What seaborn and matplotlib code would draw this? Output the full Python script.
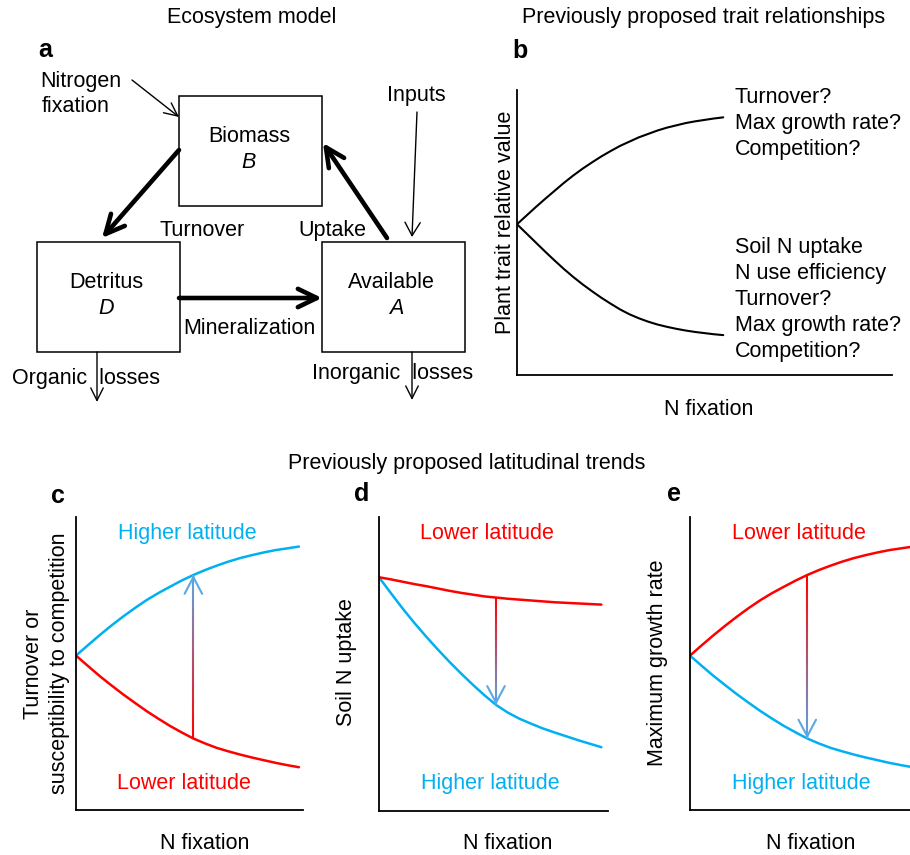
import numpy as np
import pandas as pd
import matplotlib
matplotlib.use("Agg")
import matplotlib.pyplot as plt
import seaborn as sns
from matplotlib.patches import Rectangle, FancyArrowPatch
from matplotlib.collections import LineCollection
from matplotlib.colors import to_rgb

sns.set_theme(style="white")
plt.rcParams["font.family"] = ["Liberation Sans", "DejaVu Sans"]
plt.rcParams["text.color"] = "black"
plt.rcParams["axes.labelcolor"] = "black"

FS = 15.5
BLUE = "#00B0F0"
RED = "#FF0000"
HEAD_BLUE = "#5AA8E4"

# ---- panel b: proposed trait relationships (relative units 0-100) ----
b_x = [0, 2.5, 5, 7.5, 10, 12.5, 15, 17.5, 20, 22.5, 25, 27.5, 30, 32.5, 35,
       37.5, 40, 42.5, 45, 47.5, 50, 52.5, 55]
b_up = [52.9, 55.9, 58.9, 61.8, 64.6, 67.4, 70.0, 72.4, 74.6, 76.7, 78.6, 80.4,
        81.9, 83.4, 84.6, 85.8, 86.8, 87.6, 88.4, 89.0, 89.5, 90.0, 90.4]
b_down = [52.9, 49.7, 46.5, 43.3, 40.2, 37.2, 34.4, 31.8, 29.4, 27.1, 25.0, 23.0,
          21.3, 19.9, 18.7, 17.7, 16.9, 16.2, 15.6, 15.1, 14.7, 14.3, 14.0]
b_up_labels = ["Turnover?", "Max growth rate?", "Competition?"]
b_down_labels = ["Soil N uptake", "N use efficiency", "Turnover?",
                 "Max growth rate?", "Competition?"]

# ---- panel c: turnover / susceptibility to competition ----
c_x = [0, 5.2, 10.3, 15.5, 20.7, 25.9, 31.0, 36.2, 41.4, 46.5, 51.7, 56.9,
       62.0, 67.2, 72.4, 77.6, 82.7, 87.9, 93.1, 98.2]
c_high = [52.7, 56.2, 59.6, 62.9, 66.0, 68.9, 71.6, 74.0, 76.2, 78.3, 80.2, 81.9,
          83.4, 84.8, 86.0, 87.0, 87.9, 88.7, 89.3, 89.9]
c_low = [52.7, 49.2, 45.8, 42.6, 39.5, 36.6, 33.8, 31.2, 28.7, 26.5, 24.4, 22.7,
         21.2, 20.0, 18.9, 17.9, 17.0, 16.1, 15.3, 14.6]
c_arrow_idx = 10

# ---- panel d: soil N uptake ----
d_x = [0, 5.1, 10.2, 15.3, 20.4, 25.6, 30.7, 35.8, 40.9, 46.0, 51.1, 56.2,
       61.3, 66.4, 71.5, 76.7, 81.8, 86.9, 92.0, 97.1]
d_low = [79.5, 78.8, 78.0, 77.2, 76.5, 75.7, 74.9, 74.2, 73.6, 73.0, 72.6, 72.2,
         71.9, 71.6, 71.3, 71.0, 70.8, 70.6, 70.4, 70.2]
d_high = [79.5, 74.2, 69.0, 64.1, 59.5, 55.0, 50.8, 46.8, 43.0, 39.4, 36.1, 33.5,
          31.4, 29.7, 28.1, 26.7, 25.4, 24.1, 22.9, 21.7]
d_arrow_idx = 10

# ---- panel e: maximum growth rate ----
e_x = [0, 5.1, 10.2, 15.4, 20.5, 25.6, 30.7, 35.8, 41.0, 46.1, 51.2, 56.3,
       61.4, 66.6, 71.7, 76.8, 81.9, 87.0, 92.2, 97.3]
e_low = [52.7, 56.2, 59.6, 62.9, 66.0, 68.9, 71.6, 74.0, 76.2, 78.3, 80.2, 81.9,
         83.4, 84.8, 86.0, 87.0, 87.9, 88.7, 89.3, 89.9]
e_high = [52.7, 49.2, 45.8, 42.6, 39.5, 36.6, 33.8, 31.2, 28.7, 26.5, 24.4, 22.7,
          21.2, 20.0, 18.9, 17.9, 17.0, 16.1, 15.3, 14.6]
e_arrow_idx = 10

W, H = 910, 855
fig = plt.figure(figsize=(W / 100, H / 100), dpi=100)


def px_axes(left, right, top, bottom):
    return fig.add_axes([left / W, 1 - bottom / H, (right - left) / W, (bottom - top) / H])


def style_axes(ax):
    ax.set_xlim(0, 100)
    ax.set_ylim(0, 100)
    ax.set_xticks([])
    ax.set_yticks([])
    sns.despine(ax=ax)
    for s in ("left", "bottom"):
        ax.spines[s].set_color("black")
        ax.spines[s].set_linewidth(1.3)
    ax.patch.set_alpha(0)


def set_labels(ax, xlabel, xpos, ylabel, ypos, linespacing=1.2):
    ax.set_xlabel(xlabel, fontsize=FS)
    ax.set_ylabel(ylabel, fontsize=FS, multialignment="center", linespacing=linespacing)
    ax.xaxis.set_label_coords(*xpos)
    ax.yaxis.set_label_coords(*ypos)
    ax.xaxis.label.set_va("center")
    ax.yaxis.label.set_va("center")


def curves(ax, x, series, palette, lw):
    frames = [pd.DataFrame({"x": x, "y": vals, "series": name}) for name, vals in series.items()]
    df = pd.concat(frames, ignore_index=True)
    sns.lineplot(data=df, x="x", y="y", hue="series", palette=palette, ax=ax,
                 legend=False, linewidth=lw, estimator=None, sort=False)


def gradient_arrow(ax, x, y0, y1):
    n = 60
    ys = np.linspace(y0, y1, n + 1)
    segs = [[(x, ys[i]), (x, ys[i + 1])] for i in range(n)]
    c0, c1 = np.array(to_rgb(RED)), np.array(to_rgb(HEAD_BLUE))
    t = np.linspace(0, 1, n)[:, None]
    cols = (1 - t) * c0 + t * c1
    ax.add_collection(LineCollection(segs, colors=cols, linewidths=1.5, zorder=3))
    direction = np.sign(y1 - y0)
    ax.add_patch(FancyArrowPatch((x, y1 - direction * 1.0), (x, y1),
                                 arrowstyle="->,head_length=0.85,head_width=0.45",
                                 mutation_scale=14, color=HEAD_BLUE, lw=1.5,
                                 shrinkA=0, shrinkB=0, zorder=4))


# ---------------- overlay: panel a diagram and headings ----------------
ov = fig.add_axes([0, 0, 1, 1])
ov.set_xlim(0, W)
ov.set_ylim(H, 0)
ov.axis("off")

ov.text(252, 17, "Ecosystem model", fontsize=FS, ha="center", va="center")
ov.text(704, 17, "Previously proposed trait relationships", fontsize=FS, ha="center", va="center")
ov.text(467, 463, "Previously proposed latitudinal trends", fontsize=FS, ha="center", va="center")
for letter, (lx, ly) in {"a": (45, 50), "b": (520, 51), "c": (58, 496),
                         "d": (362, 494), "e": (674, 494)}.items():
    ov.text(lx, ly, letter, fontsize=18, fontweight="bold", ha="center", va="center")

boxes = {"Biomass": (179, 96, "B", 249, 249), "Detritus": (37, 242, "D", 106, 106),
         "Available": (322, 242, "A", 396, 391)}
for name, (bx, by, sym, sx, nx) in boxes.items():
    ov.add_patch(Rectangle((bx, by), 143, 110, fill=False, ec="black", lw=1.1))
    ov.text(nx, by + 40, name, fontsize=FS, ha="center", va="center")
    ov.text(sx, by + 66, sym, fontsize=FS, style="italic", ha="center", va="center")


def arrow(p0, p1, lw, hl, hw, ms):
    ov.add_patch(FancyArrowPatch(p0, p1, arrowstyle=f"->,head_length={hl},head_width={hw}",
                                 mutation_scale=ms, color="black", lw=lw,
                                 shrinkA=0, shrinkB=0))


# fluxes between pools
arrow((179, 150), (102, 238), 3.3, 0.68, 0.33, 20)
arrow((387, 238), (323, 143), 3.3, 0.68, 0.33, 20)
arrow((179, 298), (322, 298), 3.3, 0.68, 0.33, 20)
# external inputs and losses
arrow((132, 80), (179, 117), 1.0, 0.95, 0.45, 10)
arrow((417, 112), (412, 237), 1.0, 0.95, 0.55, 10)
arrow((97, 352), (97, 402), 1.0, 0.9, 0.45, 10)
arrow((412, 352), (412, 400), 1.0, 0.9, 0.45, 10)

ov.text(202, 230, "Turnover", fontsize=FS, ha="center", va="center")
ov.text(332, 230, "Uptake", fontsize=FS, ha="center", va="center")
ov.text(249, 328, "Mineralization", fontsize=FS, ha="center", va="center")
ov.text(40, 81, "Nitrogen", fontsize=FS, ha="left", va="center")
ov.text(42, 106, "fixation", fontsize=FS, ha="left", va="center")
ov.text(416, 95, "Inputs", fontsize=FS, ha="center", va="center")
ov.text(86, 378, "Organic  losses", fontsize=FS, ha="center", va="center")
ov.text(393, 373, "Inorganic  losses", fontsize=FS, ha="center", va="center")

# ---------------- panel b ----------------
axb = px_axes(517, 892, 90, 375)
curves(axb, b_x, {"up": b_up, "down": b_down}, {"up": "black", "down": "black"}, 1.5)
style_axes(axb)
set_labels(axb, "N fixation", (0.512, -0.12), "Plant trait relative value", (-0.03, 0.537))
for i, t in enumerate(b_up_labels):
    axb.text(58.1, 97.3 - i * 9.1, t, fontsize=FS, ha="left", va="center")
for i, t in enumerate(b_down_labels):
    axb.text(58.1, 44.6 - i * 9.1, t, fontsize=FS, ha="left", va="center")

# ---------------- panel c ----------------
axc = px_axes(76, 303, 517, 810)
curves(axc, c_x, {"Higher latitude": c_high, "Lower latitude": c_low},
       {"Higher latitude": BLUE, "Lower latitude": RED}, 1.8)
style_axes(axc)
gradient_arrow(axc, c_x[c_arrow_idx], c_low[c_arrow_idx], c_high[c_arrow_idx])
set_labels(axc, "N fixation", (0.568, -0.113),
           "Turnover or\nsusceptibility to competition", (-0.13, 0.50), linespacing=1.35)
axc.text(0.489, 0.945, "Higher latitude", color=BLUE, fontsize=FS, ha="center", va="center",
         transform=axc.transAxes)
axc.text(0.476, 0.092, "Lower latitude", color=RED, fontsize=FS, ha="center", va="center",
         transform=axc.transAxes)

# ---------------- panel d ----------------
axd = px_axes(379, 608, 517, 811)
curves(axd, d_x, {"Higher latitude": d_high, "Lower latitude": d_low},
       {"Higher latitude": BLUE, "Lower latitude": RED}, 1.8)
style_axes(axd)
gradient_arrow(axd, d_x[d_arrow_idx], d_low[d_arrow_idx], d_high[d_arrow_idx])
set_labels(axd, "N fixation", (0.563, -0.11), "Soil N uptake", (-0.14, 0.505))
axd.text(0.472, 0.945, "Lower latitude", color=RED, fontsize=FS, ha="center", va="center",
         transform=axd.transAxes)
axd.text(0.485, 0.092, "Higher latitude", color=BLUE, fontsize=FS, ha="center", va="center",
         transform=axd.transAxes)

# ---------------- panel e ----------------
axe = px_axes(690, 919, 517, 810)
curves(axe, e_x, {"Higher latitude": e_high, "Lower latitude": e_low},
       {"Higher latitude": BLUE, "Lower latitude": RED}, 1.8)
style_axes(axe)
gradient_arrow(axe, e_x[e_arrow_idx], e_low[e_arrow_idx], e_high[e_arrow_idx])
set_labels(axe, "N fixation", (0.528, -0.113), "Maximum growth rate", (-0.14, 0.502))
axe.text(0.476, 0.945, "Lower latitude", color=RED, fontsize=FS, ha="center", va="center",
         transform=axe.transAxes)
axe.text(0.485, 0.092, "Higher latitude", color=BLUE, fontsize=FS, ha="center", va="center",
         transform=axe.transAxes)

fig.savefig("out.png", dpi=100, facecolor="white")
